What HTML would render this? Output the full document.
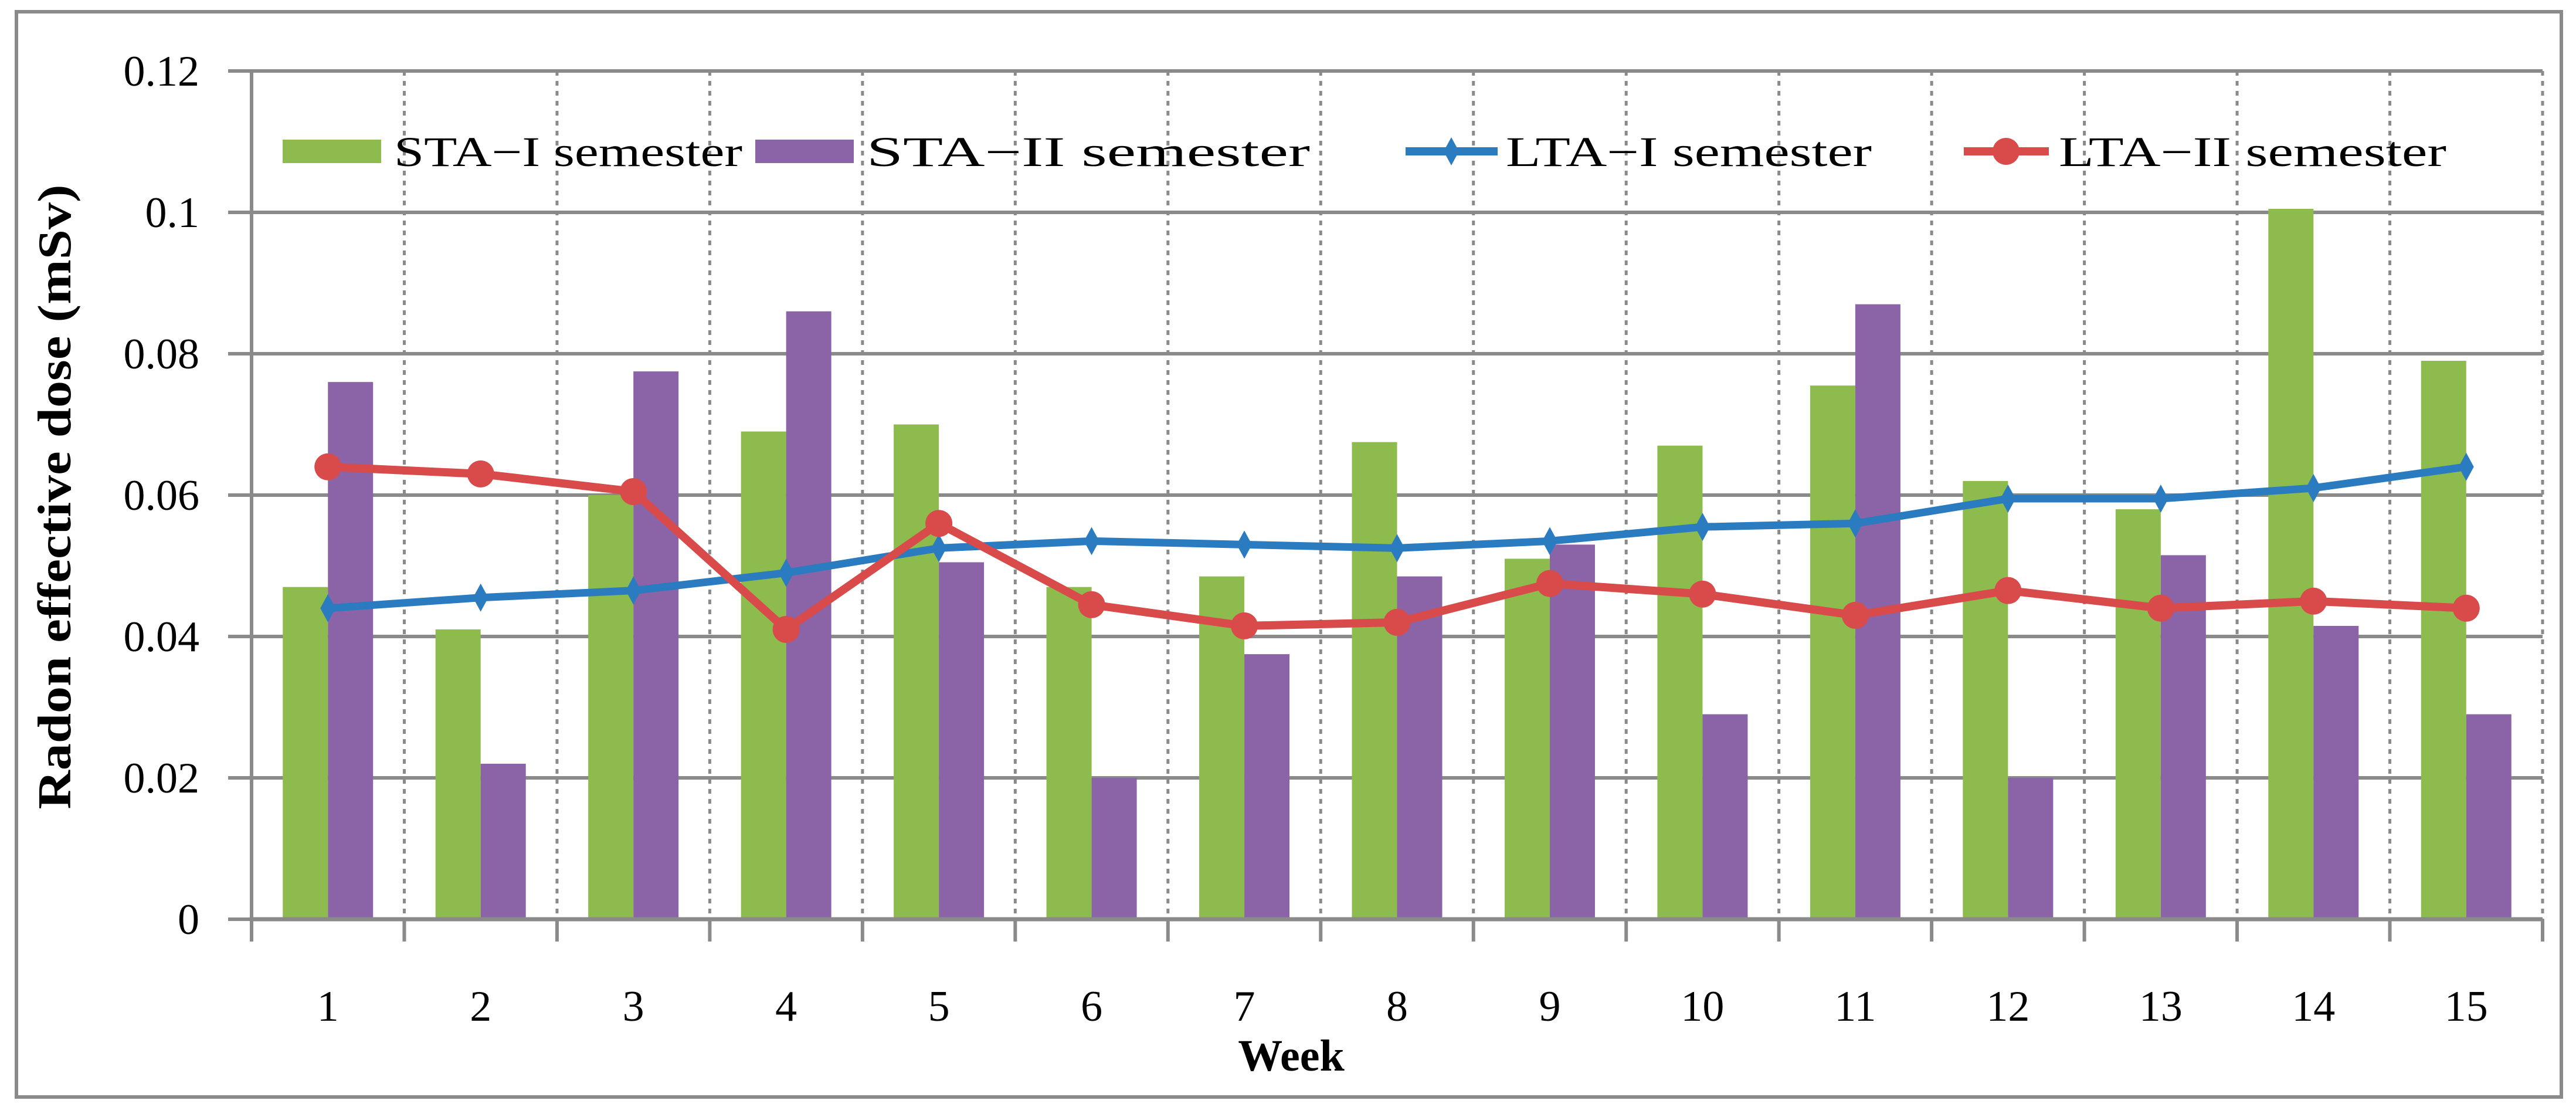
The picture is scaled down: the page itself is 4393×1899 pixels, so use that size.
<!DOCTYPE html>
<html><head><meta charset="utf-8"><style>
html,body{margin:0;padding:0;background:#fff;}
svg{display:block;}
text{font-family:"Liberation Serif",serif;}
</style></head><body>
<svg id="chart" width="4393" height="1899" viewBox="0 0 4393 1899">
<rect x="28" y="20" width="4340" height="1850" fill="#fff" stroke="#8a8a8a" stroke-width="6"/>
<g id="grid"></g><g id="bars"></g><g id="lines"></g><g id="axes"></g><g id="legend"></g>
<text x="2202" y="1825" font-size="76" font-weight="bold" text-anchor="middle">Week</text>
<text transform="translate(120,847) rotate(-90)" font-size="80" font-weight="bold" text-anchor="middle" textLength="1065" lengthAdjust="spacingAndGlyphs">Radon effective dose  (mSv)</text>
</svg>
<script>
const categories=['1','2','3','4','5','6','7','8','9','10','11','12','13','14','15'];
const staI=[0.047,0.041,0.060,0.069,0.070,0.047,0.0485,0.0675,0.051,0.067,0.0755,0.062,0.058,0.1005,0.079];
const staII=[0.076,0.022,0.0775,0.086,0.0505,0.020,0.0375,0.0485,0.053,0.029,0.087,0.020,0.0515,0.0415,0.029];
const ltaI=[0.044,0.0455,0.0465,0.049,0.0525,0.0535,0.053,0.0525,0.0535,0.0555,0.056,0.0595,0.0595,0.061,0.064];
const ltaII=[0.064,0.063,0.0605,0.041,0.056,0.0445,0.0415,0.042,0.0475,0.046,0.043,0.0465,0.044,0.045,0.044];
const yTicks=[0,0.02,0.04,0.06,0.08,0.1,0.12];
const yTickLabels=['0','0.02','0.04','0.06','0.08','0.1','0.12'];
const legendLabels=['STA\u2212I semester','STA\u2212II semester','LTA\u2212I semester','LTA\u2212II semester'];

const NS='http://www.w3.org/2000/svg';
const X0=429,X1=4336,Y0=1567,Y1=121,YMAX=0.12;
const cw=(X1-X0)/categories.length;
const xc=i=>X0+cw*(i+0.5);
const y=v=>Y0-(v/YMAX)*(Y0-Y1);
function mk(tag,attrs,parent){const e=document.createElementNS(NS,tag);for(const k in attrs)e.setAttribute(k,attrs[k]);document.getElementById(parent).appendChild(e);return e;}
yTicks.forEach((t,i)=>{
 const l=mk('line',{x1:X0-40,x2:X1,y1:y(t),y2:y(t),stroke:'#8a8a8a','stroke-width':6},'grid');
 
 
 const tx=mk('text',{x:340,y:y(t)+25,'font-size':74,'text-anchor':'end',fill:'#000'},'axes');
 tx.textContent=yTickLabels[i];
 
 
});
for(let i=1;i<=categories.length;i++){
 const x=X0+cw*i;
 const l=mk('line',{x1:x,x2:x,y1:Y1,y2:Y0,stroke:'#8a8a8a','stroke-width':5,'stroke-dasharray':'8 9'},'grid');
 
 
}
const bw=77;
categories.forEach((c,i)=>{
 const g=mk('rect',{x:xc(i)-bw,y:y(staI[i]),width:bw,height:Y0-y(staI[i]),fill:'#8DBB4E'},'bars');
 
 
 const p=mk('rect',{x:xc(i),y:y(staII[i]),width:bw,height:Y0-y(staII[i]),fill:'#8A64A6'},'bars');
 
 
});
let a=mk('line',{x1:X0,x2:X0,y1:Y1,y2:Y0+38,stroke:'#8a8a8a','stroke-width':6},'axes');


a=mk('line',{x1:X0,x2:X1,y1:Y0,y2:Y0,stroke:'#8a8a8a','stroke-width':7},'axes');


for(let i=1;i<=categories.length;i++){
 const t=mk('line',{x1:X0+cw*i,x2:X0+cw*i,y1:Y0,y2:Y0+38,stroke:'#8a8a8a','stroke-width':6},'axes');
 
 
}
categories.forEach((c,i)=>{
 const t=mk('text',{x:xc(i),y:1740,'font-size':74,'text-anchor':'middle',fill:'#000'},'axes');
 t.textContent=c;
 
 
});
function diamond(cx,cy){return `M${cx},${cy-24} L${cx+13},${cy} L${cx},${cy+24} L${cx-13},${cy} Z`;}
const pb=ltaI.map((v,i)=>xc(i)+','+y(v)).join(' ');
let pl=mk('polyline',{points:pb,fill:'none',stroke:'#2A7BC0','stroke-width':13,'stroke-linejoin':'round'},'lines');


ltaI.forEach((v,i)=>{
 const m=mk('path',{d:diamond(xc(i),y(v)),fill:'#2A7BC0'},'lines');
 
 
});
const pr=ltaII.map((v,i)=>xc(i)+','+y(v)).join(' ');
pl=mk('polyline',{points:pr,fill:'none',stroke:'#D94A4A','stroke-width':14,'stroke-linejoin':'round'},'lines');


ltaII.forEach((v,i)=>{
 const m=mk('circle',{cx:xc(i),cy:y(v),r:23,fill:'#D94A4A'},'lines');
 
 
});
const LY=258;
let r=mk('rect',{x:482,y:LY-20,width:168,height:40,fill:'#8DBB4E'},'legend');


r=mk('rect',{x:1288,y:LY-20,width:168,height:40,fill:'#8A64A6'},'legend');


r=mk('line',{x1:2397,x2:2554,y1:LY,y2:LY,stroke:'#2A7BC0','stroke-width':14},'legend');


r=mk('path',{d:diamond(2475,LY),fill:'#2A7BC0'},'legend');


r=mk('line',{x1:3349,x2:3494,y1:LY,y2:LY,stroke:'#D94A4A','stroke-width':14},'legend');


r=mk('circle',{cx:3421,cy:LY,r:23,fill:'#D94A4A'},'legend');


const lx=[672,1478,2568,3511],lw=[594,756,624,661];
legendLabels.forEach((s,i)=>{
 const t=mk('text',{x:lx[i],y:LY+25,'font-size':72,textLength:lw[i],lengthAdjust:'spacingAndGlyphs',fill:'#000'},'legend');
 t.textContent=s;
 
 
});
</script>
</body></html>
